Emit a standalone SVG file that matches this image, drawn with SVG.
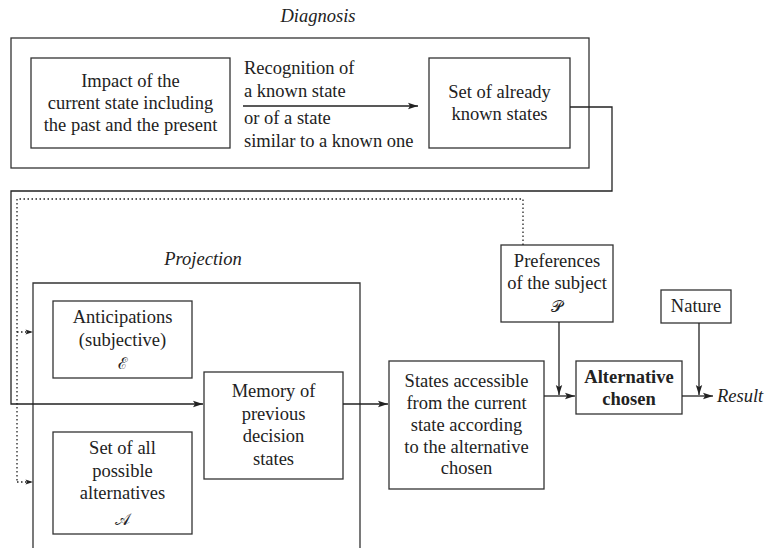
<svg xmlns="http://www.w3.org/2000/svg" width="767" height="548" viewBox="0 0 767 548">
<defs>
<marker id="ah" viewBox="0 0 10 8" refX="10" refY="4" markerWidth="10" markerHeight="8" markerUnits="userSpaceOnUse" orient="auto">
<path d="M0,0.8 L10,4 L0,7.2 L2,4 Z" fill="#222"/>
</marker>
<marker id="ahs" viewBox="0 0 10 8" refX="10" refY="4" markerWidth="8" markerHeight="6" markerUnits="userSpaceOnUse" orient="auto">
<path d="M0,0.8 L10,4 L0,7.2 L2,4 Z" fill="#222"/>
</marker>
</defs>
<rect width="767" height="548" fill="#fff"/>

<g id="diagnosis">
<rect x="11" y="38" width="578" height="130" fill="none" stroke="#333" stroke-width="1.3"/>
<text font-family="Liberation Serif" font-size="18.5" fill="#222" text-anchor="middle" font-style="italic" x="318" y="22">Diagnosis</text>
</g>

<g id="impact">
<rect x="31" y="58" width="199" height="90" fill="#fff" stroke="#333" stroke-width="1.3"/>
<text font-family="Liberation Serif" font-size="18.5" fill="#222" text-anchor="middle" x="130.5" y="87">Impact of the</text>
<text font-family="Liberation Serif" font-size="18.5" fill="#222" text-anchor="middle" x="130.5" y="109">current state including</text>
<text font-family="Liberation Serif" font-size="18.5" fill="#222" text-anchor="middle" x="130.5" y="131">the past and the present</text>
</g>

<g id="known-states">
<rect x="429" y="58" width="141" height="90" fill="#fff" stroke="#333" stroke-width="1.3"/>
<text font-family="Liberation Serif" font-size="18.5" fill="#222" text-anchor="middle" x="499.5" y="98">Set of already</text>
<text font-family="Liberation Serif" font-size="18.5" fill="#222" text-anchor="middle" x="499.5" y="120">known states</text>
</g>

<g id="projection">
<path d="M33,548 V283 H360 V548" fill="none" stroke="#333" stroke-width="1.3"/>
<text font-family="Liberation Serif" font-size="18.5" fill="#222" text-anchor="middle" font-style="italic" x="203" y="265">Projection</text>
</g>

<g id="anticipations">
<rect x="53" y="301" width="139" height="77" fill="#fff" stroke="#333" stroke-width="1.3"/>
<text font-family="Liberation Serif" font-size="18.5" fill="#222" text-anchor="middle" x="122.5" y="323">Anticipations</text>
<text font-family="Liberation Serif" font-size="18.5" fill="#222" text-anchor="middle" x="122.5" y="346">(subjective)</text>
<text font-family="Liberation Serif" font-size="16" fill="#222" text-anchor="middle" x="122.5" y="369">ℰ</text>
</g>

<g id="alternatives">
<rect x="53" y="432" width="139" height="102" fill="#fff" stroke="#333" stroke-width="1.3"/>
<text font-family="Liberation Serif" font-size="18.5" fill="#222" text-anchor="middle" x="122.5" y="454">Set of all</text>
<text font-family="Liberation Serif" font-size="18.5" fill="#222" text-anchor="middle" x="122.5" y="477">possible</text>
<text font-family="Liberation Serif" font-size="18.5" fill="#222" text-anchor="middle" x="122.5" y="499">alternatives</text>
<text font-family="Liberation Serif" font-size="16" fill="#222" text-anchor="middle" x="122.5" y="525">𝒜</text>
</g>

<g id="memory">
<rect x="204" y="372" width="139" height="107" fill="#fff" stroke="#333" stroke-width="1.3"/>
<text font-family="Liberation Serif" font-size="18.5" fill="#222" text-anchor="middle" x="273.5" y="397">Memory of</text>
<text font-family="Liberation Serif" font-size="18.5" fill="#222" text-anchor="middle" x="273.5" y="420">previous</text>
<text font-family="Liberation Serif" font-size="18.5" fill="#222" text-anchor="middle" x="273.5" y="442">decision</text>
<text font-family="Liberation Serif" font-size="18.5" fill="#222" text-anchor="middle" x="273.5" y="465">states</text>
</g>

<g id="accessible">
<rect x="389" y="361" width="155" height="128" fill="#fff" stroke="#333" stroke-width="1.3"/>
<text font-family="Liberation Serif" font-size="18.5" fill="#222" text-anchor="middle" x="466.5" y="387">States accessible</text>
<text font-family="Liberation Serif" font-size="18.5" fill="#222" text-anchor="middle" x="466.5" y="409">from the current</text>
<text font-family="Liberation Serif" font-size="18.5" fill="#222" text-anchor="middle" x="466.5" y="431">state according</text>
<text font-family="Liberation Serif" font-size="18.5" fill="#222" text-anchor="middle" x="466.5" y="453">to the alternative</text>
<text font-family="Liberation Serif" font-size="18.5" fill="#222" text-anchor="middle" x="466.5" y="474">chosen</text>
</g>

<g id="preferences">
<rect x="501" y="245" width="112" height="77" fill="#fff" stroke="#333" stroke-width="1.3"/>
<text font-family="Liberation Serif" font-size="18.5" fill="#222" text-anchor="middle" x="557" y="267">Preferences</text>
<text font-family="Liberation Serif" font-size="18.5" fill="#222" text-anchor="middle" x="557" y="289">of the subject</text>
<text font-family="Liberation Serif" font-size="16" fill="#222" text-anchor="middle" x="557" y="312">𝒫</text>
</g>

<g id="nature">
<rect x="661" y="290" width="70" height="33" fill="#fff" stroke="#333" stroke-width="1.3"/>
<text font-family="Liberation Serif" font-size="18.5" fill="#222" text-anchor="middle" x="696" y="312">Nature</text>
</g>

<g id="chosen">
<rect x="576" y="361" width="106" height="53" fill="#fff" stroke="#333" stroke-width="1.3"/>
<text font-family="Liberation Serif" font-size="18.5" fill="#222" text-anchor="middle" font-weight="bold" x="629" y="383">Alternative</text>
<text font-family="Liberation Serif" font-size="18.5" fill="#222" text-anchor="middle" font-weight="bold" x="629" y="405">chosen</text>
</g>

<g id="result">
<text font-family="Liberation Serif" font-size="18.5" fill="#222" font-style="italic" x="717" y="402">Result</text>
</g>

<g id="connectors" fill="none" stroke="#222" stroke-width="1.3">
<line x1="243" y1="106" x2="418" y2="106" marker-end="url(#ah)"/>
<path d="M570,107 H612 V191 H11 V404 H203" marker-end="url(#ah)"/>
<path d="M523,245 V199 H17 V482" stroke-dasharray="1.5 2.5"/>
<line x1="17" y1="332" x2="33" y2="332" stroke-dasharray="1.5 2.5" marker-end="url(#ahs)"/>
<line x1="17" y1="482" x2="33" y2="482" stroke-dasharray="1.5 2.5" marker-end="url(#ahs)"/>
<line x1="343" y1="404" x2="388" y2="404" marker-end="url(#ah)"/>
<line x1="544" y1="396" x2="575" y2="396" marker-end="url(#ah)"/>
<line x1="559" y1="322" x2="559" y2="395" marker-end="url(#ah)"/>
<line x1="699" y1="323" x2="699" y2="395" marker-end="url(#ah)"/>
<line x1="682" y1="396" x2="713" y2="396" marker-end="url(#ah)"/>
</g>
<g id="edge-labels">
<text font-family="Liberation Serif" font-size="18.5" fill="#222" x="244" y="74">Recognition of</text>
<text font-family="Liberation Serif" font-size="18.5" fill="#222" x="244" y="97">a known state</text>
<text font-family="Liberation Serif" font-size="18.5" fill="#222" x="244" y="124">or of a state</text>
<text font-family="Liberation Serif" font-size="18.5" fill="#222" x="244" y="147">similar to a known one</text>
</g>
</svg>
